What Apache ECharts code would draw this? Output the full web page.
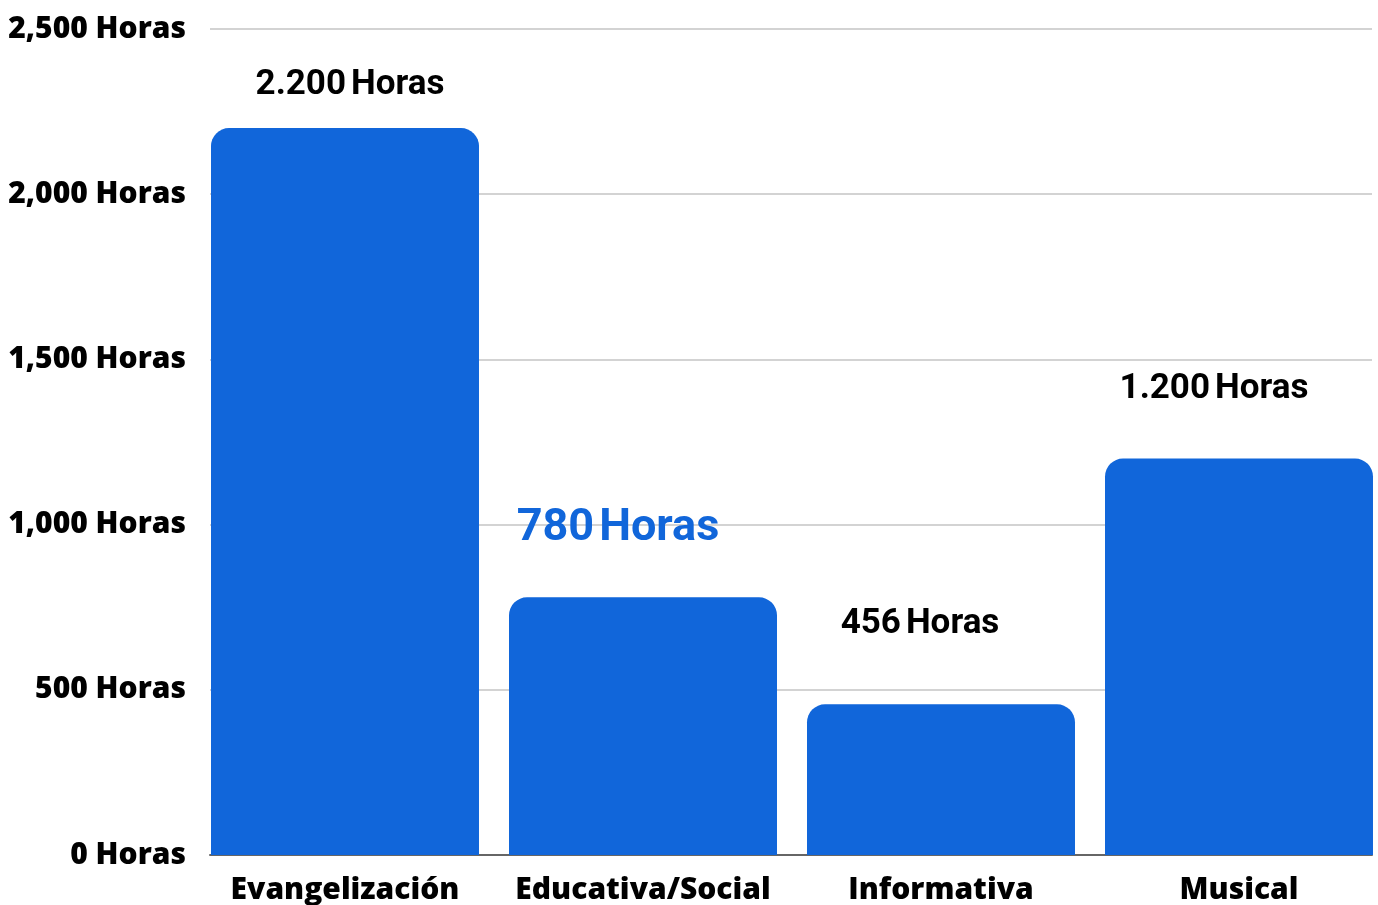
<!DOCTYPE html>
<html>
<head>
<meta charset="utf-8">
<script src="https://cdn.jsdelivr.net/npm/echarts@6/dist/echarts.min.js"></script>
<style>
  html, body { margin: 0; padding: 0; background: #fff; }
  #main { width: 1378px; height: 905px; }
</style>
</head>
<body>
<div id="main"></div>
<script>
// data
var categories = ["Evangelización", "Educativa/Social", "Informativa", "Musical"];
var hours = [2200, 780, 456, 1200];
var yMin = 0, yMax = 2500, yStep = 500;

// label nudges (dx, dy) relative to the top of each bar
var labelNudge = [[5, -23], [-25, -43], [-21, -60], [-25, -49]];
var highlighted = 1; // the blue, larger label

var BLUE = "#1166da";

function esNumber(v) {
  return String(v).replace(/\B(?=(\d{3})+(?!\d))/g, ".");
}

var chartDom = document.getElementById("main");
var myChart = echarts.init(chartDom, null, { renderer: "canvas" });

var barData = hours.map(function (v, i) {
  var big = i === highlighted;
  var st = { fontFamily: "Roboto", fontWeight: 700, fontSize: big ? 45 : 35, lineHeight: big ? 52 : 40, color: big ? BLUE : "#000" };
  return {
    value: v,
    label: {
      offset: labelNudge[i],
      rich: {
        n: st,
        h: Object.assign({ padding: [0, 0, 0, 5] }, st)
      }
    }
  };
});

var option = {
  backgroundColor: "#fff",
  animation: false,
  grid: [
    { left: 210, right: 6, top: 29, bottom: 50, outerBoundsMode: "none" },
    { left: 196, width: 1192, top: 29, bottom: 50, outerBoundsMode: "none" }
  ],
  xAxis: [
    {
      gridIndex: 0,
      type: "value",
      min: 0,
      max: 1,
      axisLine: { show: true, onZero: false, lineStyle: { color: "#666", width: 2 } },
      axisTick: { show: false },
      axisLabel: { show: false },
      splitLine: { show: false }
    },
    {
      gridIndex: 1,
      type: "category",
      data: categories,
      axisLine: { show: false },
      axisTick: { show: false },
      axisLabel: {
        interval: 0,
        margin: 20,
        color: "#000",
        fontFamily: "Open Sans",
        fontWeight: 800,
        fontSize: 30
      }
    }
  ],
  yAxis: [
    {
      gridIndex: 0,
      type: "value",
      min: yMin,
      max: yMax,
      interval: yStep,
      axisLine: { show: false },
      axisTick: { show: false },
      axisLabel: {
        margin: 24,
        color: "#000",
        fontFamily: "Open Sans",
        fontWeight: 800,
        fontSize: 30,
        formatter: function (v) { return v.toLocaleString("en-US") + " Horas"; }
      },
      splitLine: { lineStyle: { color: "#c4c4c4", width: 1.5 } }
    },
    {
      gridIndex: 1,
      type: "value",
      min: yMin,
      max: yMax,
      interval: yStep,
      show: false,
      splitLine: { show: false }
    }
  ],
  series: [
    {
      type: "bar",
      xAxisIndex: 1,
      yAxisIndex: 1,
      barCategoryGap: "10.07%",
      data: barData,
      itemStyle: { color: BLUE, borderRadius: [18, 18, 0, 0] },
      label: {
        show: true,
        position: "top",
        distance: 0,
        formatter: function (p) { return "{n|" + esNumber(p.value) + "}{h|Horas}"; }
      }
    }
  ]
};

option && myChart.setOption(option);
</script>
</body>
</html>
